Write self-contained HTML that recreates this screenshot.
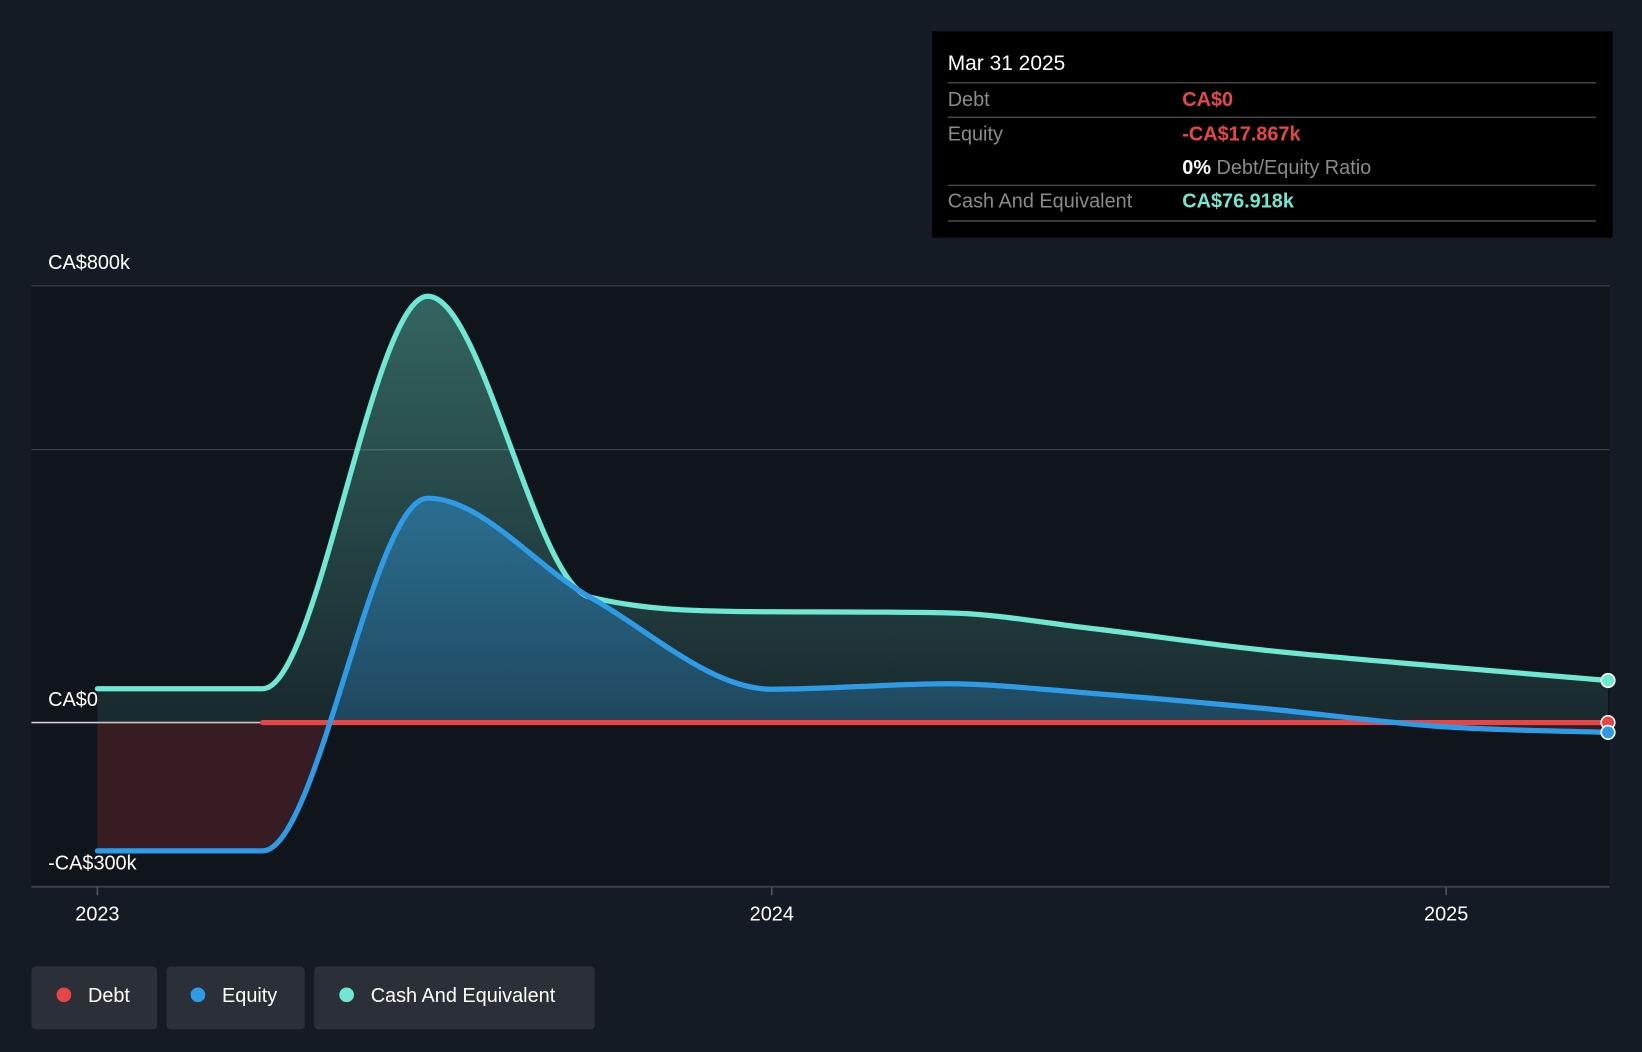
<!DOCTYPE html>
<html><head><meta charset="utf-8"><style>
html,body{margin:0;padding:0;background:#151b24;}
svg{display:block;font-family:"Liberation Sans",sans-serif;}
</style></head><body>
<svg id="chart" width="1642" height="1052" viewBox="0 0 1568 1004.6" xmlns="http://www.w3.org/2000/svg">
<defs>
<linearGradient id="gCash" x1="0" y1="0" x2="0" y2="1"><stop offset="0" stop-color="#6ee7d3" stop-opacity="0.38"/><stop offset="1" stop-color="#6ee7d3" stop-opacity="0.1"/></linearGradient>
<linearGradient id="gEq" x1="0" y1="0" x2="0" y2="1"><stop offset="0" stop-color="#2e9be6" stop-opacity="0.45"/><stop offset="1" stop-color="#2e9be6" stop-opacity="0.15"/></linearGradient>
<clipPath id="above"><rect x="0" y="0" width="1568" height="690"/></clipPath>
<clipPath id="below"><rect x="0" y="690" width="1568" height="400"/></clipPath>
</defs>
<rect x="0" y="0" width="1568" height="1005" fill="#151b24"/>
<rect x="30" y="273" width="1507" height="574" fill="#10141b"/>
<g id="grid"></g>
<g id="marks"></g>
<g id="axes"></g>
<g>
<rect x="890" y="30" width="650" height="197" fill="#000"/>
<text x="905" y="67" fill="#fff" font-size="20">Mar 31 2025</text>
<line x1="905" x2="1524" y1="79" y2="79" stroke="#444" stroke-width="1.5"/>
<text x="905" y="101" fill="#8a8a8a" font-size="19">Debt</text>
<text x="1129" y="101" fill="#e84646" font-size="19" font-weight="bold">CA$0</text>
<line x1="905" x2="1524" y1="112" y2="112" stroke="#444" stroke-width="1.5"/>
<text x="905" y="134" fill="#8a8a8a" font-size="19">Equity</text>
<text x="1129" y="134" fill="#e84646" font-size="19" font-weight="bold">-CA$17.867k</text>
<text x="1129" y="166" fill="#8a8a8a" font-size="19"><tspan fill="#fff" font-weight="bold">0%</tspan> Debt/Equity Ratio</text>
<line x1="905" x2="1524" y1="177" y2="177" stroke="#444" stroke-width="1.5"/>
<text x="905" y="198" fill="#8a8a8a" font-size="19">Cash And Equivalent</text>
<text x="1129" y="198" fill="#6ee7d3" font-size="19" font-weight="bold">CA$76.918k</text>
<line x1="905" x2="1524" y1="211" y2="211" stroke="#444" stroke-width="1.5"/>
</g>
<g>
<g><rect x="30" y="923" width="120" height="60" rx="4" fill="#2a2f38"/><circle cx="61" cy="950" r="7" fill="#e84646"/><text x="84" y="957" fill="#fff" font-size="19">Debt</text></g>
<g><rect x="159" y="923" width="132" height="60" rx="4" fill="#2a2f38"/><circle cx="189" cy="950" r="7" fill="#2e9be6"/><text x="212" y="957" fill="#fff" font-size="19">Equity</text></g>
<g><rect x="300" y="923" width="268" height="60" rx="4" fill="#2a2f38"/><circle cx="331" cy="950" r="7" fill="#6ee7d3"/><text x="354" y="957" fill="#fff" font-size="19">Cash And Equivalent</text></g>
</g>
</svg>
<script>
const dates=[2023.0,2023.245,2023.49,2023.73,2024.0,2024.26,2024.47,2024.72,2025.0,2025.24];
const cash=[62,62,781,230,203,201,173,134,102,77];
const equity=[-235,-235,411,230,61,71,54,27,-8,-18];
const debt=[null,0,0,0,0,0,0,0,0,0];
const yTicks=[-300,0,500,800];
const yTickLabels=["-CA$300k","CA$0","","CA$800k"];
const xTicks=[2023,2024,2025];
const NS="http://www.w3.org/2000/svg";
const X=t=>93+(t-2023)*644;
const Y=v=>690-v*0.5213;
function el(tag,attrs,parent){const e=document.createElementNS(NS,tag);for(const k in attrs)e.setAttribute(k,attrs[k]);parent.appendChild(e);return e;}
function mono(pts){const n=pts.length;if(n<2)return "";const d=[],m=[];
for(let i=0;i<n-1;i++)d.push((pts[i+1][1]-pts[i][1])/(pts[i+1][0]-pts[i][0]));
m[0]=d[0];m[n-1]=d[n-2];
for(let i=1;i<n-1;i++){m[i]=(d[i-1]*d[i]<=0)?0:(d[i-1]+d[i])/2;}
for(let i=0;i<n-1;i++){if(d[i]===0){m[i]=0;m[i+1]=0;continue;}const a=m[i]/d[i],b=m[i+1]/d[i],s=a*a+b*b;if(s>9){const t=3/Math.sqrt(s);m[i]=t*a*d[i];m[i+1]=t*b*d[i];}}
let p="M"+pts[0][0]+","+pts[0][1];
for(let i=0;i<n-1;i++){const h=(pts[i+1][0]-pts[i][0])/3;p+=" C"+(pts[i][0]+h)+","+(pts[i][1]+m[i]*h)+" "+(pts[i+1][0]-h)+","+(pts[i+1][1]-m[i+1]*h)+" "+pts[i+1][0]+","+pts[i+1][1];}
return p;}
function ptsOf(arr){const p=[];arr.forEach((v,i)=>{if(v!==null)p.push([X(dates[i]),Y(v)]);});return p;}
const grid=document.getElementById('grid'),marks=document.getElementById('marks'),axes=document.getElementById('axes');
yTicks.forEach((v,i)=>{
 const l=el('line',{x1:30,x2:1537,y1:Y(v),y2:Y(v),stroke:v===0?'#d0d0d0':'#3a3f48','stroke-width':v===0?1.5:1.2},grid);
 
 
 if(yTickLabels[i]){const t=el('text',{x:46,y:Y(v)-16,fill:'#fff','font-size':19},axes);t.textContent=yTickLabels[i];
 
 }
});
const base=el('line',{x1:30,x2:1537,y1:847,y2:847,stroke:'#3a3f48','stroke-width':1.5},grid);


xTicks.forEach(v=>{
 const tk=el('line',{x1:X(v),x2:X(v),y1:847,y2:855,stroke:'#555','stroke-width':1.5},axes);
 
 
 const t=el('text',{x:X(v),y:879,fill:'#fff','font-size':19,'text-anchor':'middle'},axes);t.textContent=String(v);
 
 
});
function area(arr,fill,clip,name){const p=ptsOf(arr);const d=mono(p)+" L"+p[p.length-1][0]+","+Y(0)+" L"+p[0][0]+","+Y(0)+" Z";
 const a=el('path',{d:d,fill:fill},marks);if(clip)a.setAttribute('clip-path',clip);
 
 }
area(cash,'url(#gCash)','url(#above)','cash-area');
area(equity,'url(#gEq)','url(#above)','equity-area');
area(equity,'rgba(232,70,70,0.18)','url(#below)','equity-negative-area');
function line(arr,color,name){const p=ptsOf(arr);const l=el('path',{d:mono(p),fill:'none',stroke:color,'stroke-width':5,'stroke-linecap':'round'},marks);
 
 
 const last=p[p.length-1];const c=el('circle',{cx:last[0],cy:last[1],r:6.5,fill:color,stroke:'#fff','stroke-width':1.5},marks);
 
 }
line(cash,'#6ee7d3','cash-line');
line(debt,'#e84646','debt-line');
line(equity,'#2e9be6','equity-line');
</script>
</body></html>
